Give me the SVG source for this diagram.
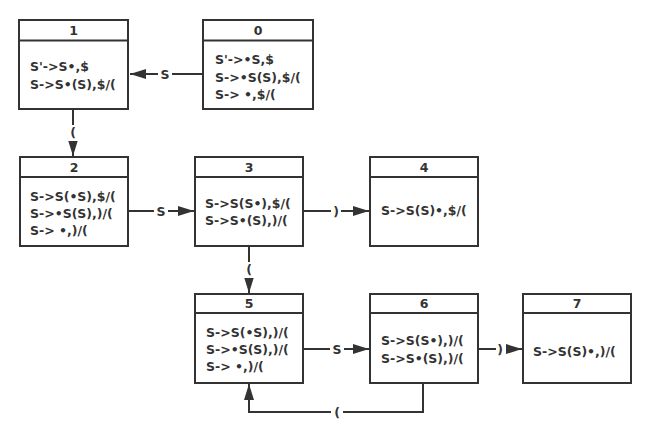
<svg xmlns="http://www.w3.org/2000/svg" width="656" height="435" viewBox="0 0 656 435">
<style>
.box{fill:#fff;stroke:#333;stroke-width:2}
.hd{fill:none;stroke:#333;stroke-width:2}
text{font-family:"DejaVu Sans","Noto Sans",sans-serif;font-weight:bold;font-size:12.5px;fill:#333}
.num{text-anchor:middle}
.lbl{text-anchor:middle}
.edge{fill:none;stroke:#333;stroke-width:2}
</style>
<defs>
<marker id="ah2" viewBox="0 0 16 10" refX="16" refY="5" markerWidth="16" markerHeight="10" markerUnits="userSpaceOnUse" orient="auto"><path d="M0,0 L16,5 L0,10 Z" fill="#333"/></marker>
</defs>
<g id="edges">
<path class="edge" d="M203,74 H130" marker-end="url(#ah2)"/>
<rect x="158" y="66" width="14" height="16" fill="#fff"/><text class="lbl" x="165" y="79">S</text>
<path class="edge" d="M73,109 V156" marker-end="url(#ah2)"/>
<rect x="67" y="125" width="12" height="16" fill="#fff"/><text class="lbl" x="73" y="137">(</text>
<path class="edge" d="M128,211 H194" marker-end="url(#ah2)"/>
<rect x="154" y="203" width="14" height="16" fill="#fff"/><text class="lbl" x="161" y="216">S</text>
<path class="edge" d="M303,211 H369" marker-end="url(#ah2)"/>
<rect x="331" y="203" width="10" height="16" fill="#fff"/><text class="lbl" x="336" y="216">)</text>
<path class="edge" d="M249,246 V293" marker-end="url(#ah2)"/>
<rect x="243" y="262" width="12" height="16" fill="#fff"/><text class="lbl" x="249" y="274">(</text>
<path class="edge" d="M303,349 H369" marker-end="url(#ah2)"/>
<rect x="330" y="341" width="14" height="16" fill="#fff"/><text class="lbl" x="337" y="354">S</text>
<path class="edge" d="M478,349 H522" marker-end="url(#ah2)"/>
<rect x="496" y="341" width="10" height="16" fill="#fff"/><text class="lbl" x="500" y="354">)</text>
<path class="edge" d="M423,383 V412 H249 V384" marker-end="url(#ah2)"/>
<rect x="331" y="404" width="12" height="16" fill="#fff"/><text class="lbl" x="337" y="417">(</text>
</g>
<g id="node1">
<rect class="box" x="19" y="20" width="109" height="89"/><path class="hd" d="M19,40.5 H128"/>
<text class="num" x="73.5" y="35">1</text>
<text x="30" y="71">S'-&gt;S•,$</text>
<text x="30" y="89">S-&gt;S•(S),$/(</text>
</g>
<g id="node0">
<rect class="box" x="203" y="20" width="110" height="89"/><path class="hd" d="M203,40.5 H313"/>
<text class="num" x="258" y="35">0</text>
<text x="215" y="64">S'-&gt;•S,$</text>
<text x="215" y="82">S-&gt;•S(S),$/(</text>
<text x="215" y="99">S-&gt; •,$/(</text>
</g>
<g id="node2">
<rect class="box" x="20" y="157" width="108" height="89"/><path class="hd" d="M20,177 H128"/>
<text class="num" x="74" y="172">2</text>
<text x="30" y="201">S-&gt;S(•S),$/(</text>
<text x="30" y="218">S-&gt;•S(S),)/(</text>
<text x="30" y="235">S-&gt; •,)/(</text>
</g>
<g id="node3">
<rect class="box" x="195" y="157" width="108" height="89"/><path class="hd" d="M195,177 H303"/>
<text class="num" x="249" y="172">3</text>
<text x="205" y="208">S-&gt;S(S•),$/(</text>
<text x="205" y="225">S-&gt;S•(S),)/(</text>
</g>
<g id="node4">
<rect class="box" x="370" y="157" width="108" height="89"/><path class="hd" d="M370,177 H478"/>
<text class="num" x="424" y="172">4</text>
<text x="381" y="215">S-&gt;S(S)•,$/(</text>
</g>
<g id="node5">
<rect class="box" x="195" y="294" width="108" height="89"/><path class="hd" d="M195,313 H303"/>
<text class="num" x="249" y="308">5</text>
<text x="206" y="337">S-&gt;S(•S),)/(</text>
<text x="206" y="354">S-&gt;•S(S),)/(</text>
<text x="206" y="371">S-&gt; •,)/(</text>
</g>
<g id="node6">
<rect class="box" x="370" y="294" width="108" height="89"/><path class="hd" d="M370,313 H478"/>
<text class="num" x="424" y="308">6</text>
<text x="381" y="345">S-&gt;S(S•),)/(</text>
<text x="381" y="363">S-&gt;S•(S),)/(</text>
</g>
<g id="node7">
<rect class="box" x="523" y="294" width="108" height="89"/><path class="hd" d="M523,313 H631"/>
<text class="num" x="577" y="308">7</text>
<text x="533" y="356">S-&gt;S(S)•,)/(</text>
</g>
</svg>
